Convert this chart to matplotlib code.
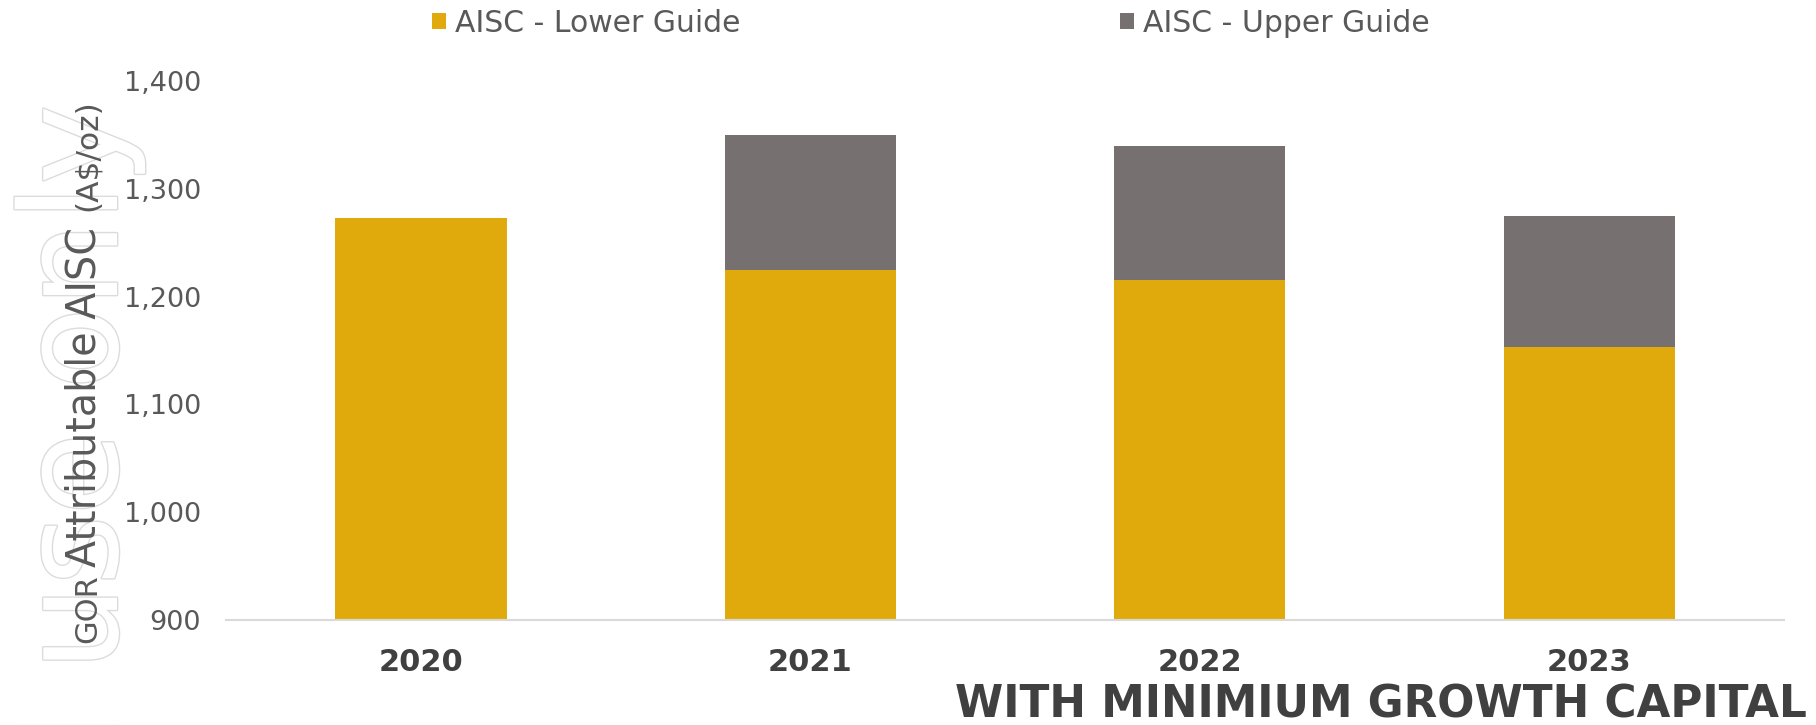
import matplotlib
matplotlib.use('Agg')
import matplotlib.pyplot as plt
import matplotlib.patheffects as pe
import numpy as np

YEARS = ['2020', '2021', '2022', '2023']
LOWER = [1273, 1225, 1215, 1153]
UPPER = [1273, 1350, 1340, 1275]
LABELS = ['AISC - Lower Guide', 'AISC - Upper Guide']
YTICKS = [900, 1000, 1100, 1200, 1300, 1400]

GOLD = '#E1AA0C'
GREY = '#767170'

plt.rcParams['font.family'] = ['DejaVu Sans']

x = np.arange(len(YEARS))
base = 900
lower_h = np.array(LOWER) - base
upper_h = np.array(UPPER) - np.array(LOWER)

fig = plt.figure(figsize=(18.16, 7.25), dpi=100)
ax = fig.add_axes([0.1245, 0.1448, 0.8579, 0.7435])

b1 = ax.bar(x, lower_h, bottom=base, width=0.44, color=GOLD, label=LABELS[0])
b2 = ax.bar(x, upper_h, bottom=LOWER, width=0.44, color=GREY, label=LABELS[1])

ax.set_xlim(-0.5, len(YEARS) - 0.5)
ax.set_ylim(900, 1400)
ax.set_yticks(YTICKS)
ax.set_yticklabels([f'{v:,}' for v in YTICKS], fontsize=19.5, color='#595959')
ax.set_xticks(x)
ax.set_xticklabels(YEARS, fontsize=22, fontweight='bold', color='#404040')
ax.tick_params(axis='y', length=0, pad=18)
ax.tick_params(axis='x', length=0, pad=20)
for s in ['top', 'right', 'left']:
    ax.spines[s].set_visible(False)
ax.spines['bottom'].set_color('#d9d9d9')
ax.spines['bottom'].set_linewidth(1.5)

# watermark, outlined and mostly off the left edge
fig.text(117 / 1816, 1 - 104 / 725, 'For personal use only', rotation=90,
         rotation_mode='anchor', ha='right', va='baseline',
         fontsize=97, color='white', zorder=0,
         path_effects=[pe.withStroke(linewidth=2, foreground='#dcdcdc')])

# y label in three pieces
fig.text(96 / 1816, 1 - 643 / 725, 'GOR', rotation=90, rotation_mode='anchor',
         ha='left', va='baseline', fontsize=22, color='#595959')
fig.text(96 / 1816, 1 - 567 / 725, 'Attributable AISC', rotation=90,
         rotation_mode='anchor', ha='left', va='baseline', fontsize=28.5,
         color='#595959')
fig.text(96 / 1816, 1 - 211 / 725, '(A$/oz)', rotation=90,
         rotation_mode='anchor', ha='left', va='baseline', fontsize=22.5,
         color='#595959')

fig.text(1807 / 1816, 1 - 717 / 725, 'WITH MINIMIUM GROWTH CAPITAL',
         ha='right', va='baseline', fontsize=31.5, fontweight='bold',
         color='#404040')

fig.legend(handles=[b1, b2], labels=LABELS, loc='center',
           bbox_to_anchor=(0.5127, 0.968), ncol=2, frameon=False,
           fontsize=21.5, labelcolor='#595959', handlelength=0.47,
           handleheight=0.47, handletextpad=0.3, columnspacing=12.7)

plt.savefig('out.png', dpi=100)
plt.close()
